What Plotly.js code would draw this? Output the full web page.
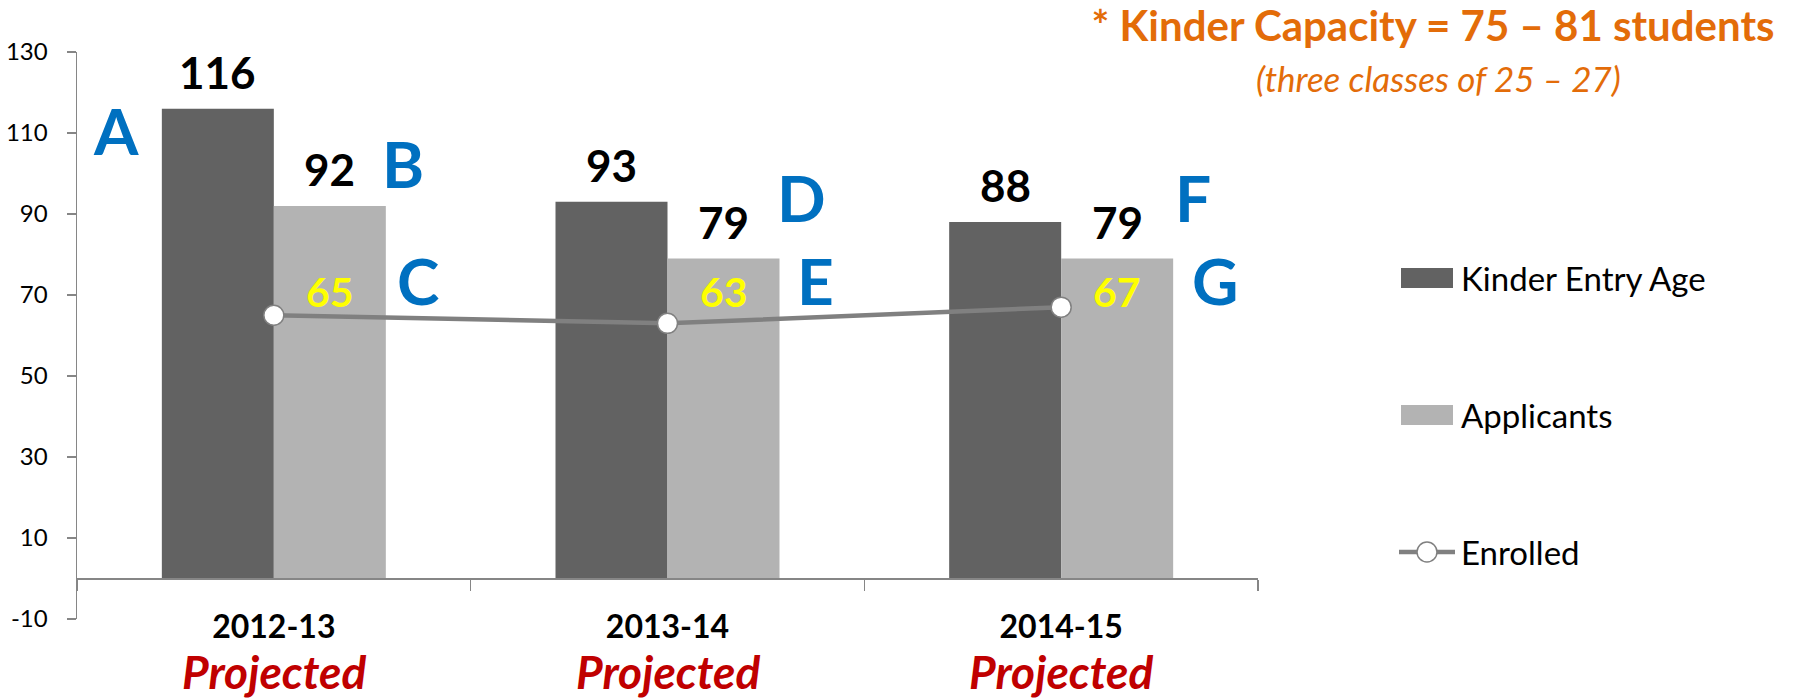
<!DOCTYPE html>
<html>
<head>
<meta charset="utf-8">
<script src="https://cdn.plot.ly/plotly-3.0.1.min.js"></script>
<style>html,body{margin:0;padding:0;background:#fff;}#chart{width:1808px;height:698px;}</style>
</head>
<body>
<div id="chart"></div>
<script>
// ---- data ----
const categories = ["2012-13", "2013-14", "2014-15"];
const categorySubLabels = ["Projected", "Projected", "Projected"];
const kinderEntryAge = [116, 93, 88];
const applicants = [92, 79, 79];
const enrolled = [65, 63, 67];
const seriesNames = ["Kinder Entry Age", "Applicants", "Enrolled"];
const callouts = ["A", "B", "C", "D", "E", "F", "G"];
const yTickValues = [-10, 10, 30, 50, 70, 90, 110, 130];
const yTickLabels = ["-10", "10", "30", "50", "70", "90", "110", "130"];

// ---- style ----
const W = 1808, H = 698;
const M = {l: 77, r: 550, t: 52, b: 79};
const PW = W - M.l - M.r, PH = H - M.t - M.b;
const px2x = px => (px - M.l) / PW;
const px2y = py => (H - M.b - py) / PH;
const FONT = "Lato, 'Open Sans', sans-serif";
const DARK = "#626262", LIGHT = "#B3B3B3", LINE = "#808080", AXIS = "#868686";
const BARGAP = 0.431;
const bw = (1 - BARGAP) / 2;

const traces = [
  {type: "bar", name: seriesNames[0], x: categories, y: kinderEntryAge,
   marker: {color: DARK}, showlegend: false, hoverinfo: "skip"},
  {type: "bar", name: seriesNames[1], x: categories, y: applicants,
   marker: {color: LIGHT}, showlegend: false, hoverinfo: "skip"},
  {type: "scatter", mode: "lines+markers", name: seriesNames[2], x: categories, y: enrolled,
   line: {color: LINE, width: 4.5},
   marker: {size: 20, color: "#FFFFFF", line: {color: LINE, width: 1.5}},
   showlegend: false, hoverinfo: "skip"}
];

const annotations = [];
// bar value labels
[kinderEntryAge, applicants].forEach((vals, s) => {
  vals.forEach((v, i) => {
    annotations.push({x: i + (s === 0 ? -bw / 2 : bw / 2), y: v, xref: "x", yref: "y",
      text: "<b>" + v + "</b>", showarrow: false, yanchor: "middle", yshift: 37,
      font: {family: FONT, size: 44, color: "#000000"}});
  });
});
// enrolled labels (yellow), placed on a common label row
const ENROLLED_LABEL_LEVEL = 70.8;
enrolled.forEach((v, i) => {
  annotations.push({x: i + bw / 2, y: ENROLLED_LABEL_LEVEL, xref: "x", yref: "y",
    text: "<b>" + v + "</b>", showarrow: false, yanchor: "middle",
    font: {family: FONT, size: 41, color: "#FFFF00"}});
});
// callout letters
const calloutPos = [[-0.401, 110.6], [0.328, 102.4], [0.366, 73.5], [1.341, 94], [1.377, 73.5], [2.336, 94], [2.392, 73.5]];
callouts.forEach((c, k) => {
  annotations.push({x: calloutPos[k][0], y: calloutPos[k][1], xref: "x", yref: "y",
    text: "<b>" + c + "</b>", showarrow: false, xanchor: "center", yanchor: "middle",
    font: {family: FONT, size: 64, color: "#0070C0"}});
});
// sub labels under categories
categorySubLabels.forEach((t, i) => {
  annotations.push({x: i, y: px2y(671), xref: "x", yref: "paper",
    text: "<b><i>" + t + "</i></b>", showarrow: false, yanchor: "middle",
    font: {family: FONT, size: 46, color: "#C00000"}});
});
// subtitle
annotations.push({x: px2x(1438), y: px2y(78), xref: "paper", yref: "paper",
  text: "<i>(three classes of 25 – 27)</i>", showarrow: false, xanchor: "center", yanchor: "middle",
  font: {family: FONT, size: 35, color: "#E36C09"}});

// custom legend
const legY = [278, 415, 552];
const shapes = [];
[DARK, LIGHT].forEach((col, k) => {
  shapes.push({type: "rect", xref: "paper", yref: "paper",
    x0: px2x(1401), x1: px2x(1453), y0: px2y(legY[k] - 10), y1: px2y(legY[k] + 10),
    fillcolor: col, line: {width: 0}});
});
shapes.push({type: "line", xref: "paper", yref: "paper",
  x0: px2x(1399), x1: px2x(1455), y0: px2y(legY[2]), y1: px2y(legY[2]),
  line: {color: LINE, width: 4.5}});
shapes.push({type: "circle", xref: "paper", yref: "paper",
  x0: px2x(1417), x1: px2x(1437), y0: px2y(legY[2] - 10), y1: px2y(legY[2] + 10),
  fillcolor: "#FFFFFF", line: {color: LINE, width: 1.5}});
seriesNames.forEach((n, k) => {
  annotations.push({x: px2x(1459), y: px2y(legY[k]), xref: "paper", yref: "paper",
    text: n, showarrow: false, xanchor: "left", yanchor: "middle",
    font: {family: FONT, size: 33, color: "#000000"}});
});

const layout = {
  width: W, height: H,
  margin: M,
  paper_bgcolor: "#FFFFFF", plot_bgcolor: "#FFFFFF",
  showlegend: false,
  barmode: "group", bargap: BARGAP, bargroupgap: 0,
  title: {text: "<b>* Kinder Capacity = 75 – 81 students</b>", x: 1433 / W, xanchor: "center",
    y: 1 - 26 / H, yanchor: "middle", font: {family: FONT, size: 42, color: "#E36C09"}},
  xaxis: {type: "category", categoryorder: "array", categoryarray: categories,
    range: [-0.5, 2.5], anchor: "free", position: 10 / 140,
    showline: true, linecolor: AXIS, linewidth: 2,
    ticks: "outside", tickson: "boundaries", ticklen: 11, tickwidth: 1.5, tickcolor: AXIS,
    tickfont: {family: FONT, size: 32, color: "#000000", weight: "bold"},
    ticklabelstandoff: 20,
    showgrid: false, zeroline: false, fixedrange: true},
  yaxis: {range: [-10, 130], tickmode: "array", tickvals: yTickValues, ticktext: yTickLabels,
    showline: true, linecolor: AXIS, linewidth: 1.5,
    ticks: "outside", ticklen: 9, tickwidth: 1.5, tickcolor: AXIS,
    tickfont: {family: FONT, size: 24, color: "#000000"},
    ticklabelstandoff: 14,
    showgrid: false, zeroline: false, fixedrange: true},
  annotations: annotations,
  shapes: shapes
};

Plotly.newPlot("chart", traces, layout, {staticPlot: true, displayModeBar: false});
</script>
</body>
</html>
